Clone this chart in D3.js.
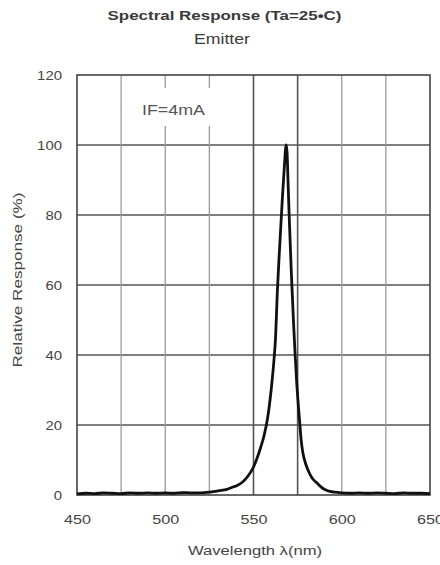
<!DOCTYPE html>
<html>
<head>
<meta charset="utf-8">
<script src="https://cdn.jsdelivr.net/npm/d3@7"></script>
<style>
html,body{margin:0;padding:0;background:#fff;}
svg{display:block;font-family:"Liberation Sans",Arial,sans-serif;}
</style>
</head>
<body>
<svg id="chart" width="440" height="565"></svg>
<script>
const wavelengths = [450,455,460,465,470,475,480,485,490,495,500,505,510,515,520,525,530,535,538,541,544,547,550,552,554,556,558,560,561.5,562.5,563.5,564.5,565.5,566.5,567.5,568.5,569,569.6,570.2,570.8,571.4,572.1,572.8,573.6,574.5,575.5,576.3,577,578,579.5,581,583,586,589,592,596,600,605,610,615,620,625,630,635,640,645,650];
const response =    [0.3,0.5,0.4,0.6,0.5,0.4,0.6,0.5,0.6,0.5,0.6,0.5,0.7,0.6,0.6,0.8,1.2,1.6,2.2,2.8,3.8,5.5,8,10.5,13.5,17,22,30,38,45,58,68,77,86,94,100,98,89,80,72,64,56,48,40,32,25,20,15.7,12,9,7,5,3.4,2,1.2,0.8,0.6,0.5,0.6,0.5,0.6,0.5,0.4,0.6,0.5,0.5,0.4];
const xTicks = [450,500,550,600,650];
const xGrid = [475,500,525,550,575,600,625];
const xGridDark = [550,575];
const yTicks = [0,20,40,60,80,100,120];
const titleText = ["Spectral Response (Ta=25\u2022C)","Emitter"];
const annotation = "IF=4mA";
const xLabel = "Wavelength \u03bb(nm)";
const yLabel = "Relative Response (%)";

const svg = d3.select("#chart");
const x = d3.scaleLinear().domain([450,650]).range([77,430]);
const y = d3.scaleLinear().domain([0,120]).range([495,75]);
const ink = "#3a3a3a";

// title
svg.append("text").attr("x",224.5).attr("y",20).attr("text-anchor","middle")
  .attr("font-size",13.5).attr("font-weight","bold").attr("fill",ink)
  .attr("textLength",234).attr("lengthAdjust","spacingAndGlyphs").text(titleText[0]);
svg.append("text").attr("x",222).attr("y",44).attr("text-anchor","middle")
  .attr("font-size",14.5).attr("fill",ink)
  .attr("textLength",56).attr("lengthAdjust","spacingAndGlyphs").text(titleText[1]);

// grid
const g = svg.append("g");
g.selectAll("line.h").data(yTicks.filter(d=>d>0&&d<120)).join("line")
  .attr("x1",x(450)).attr("x2",x(650)).attr("y1",d=>y(d)).attr("y2",d=>y(d))
  .attr("stroke","#555").attr("stroke-width",1.6);
g.selectAll("line.v").data(xGrid).join("line")
  .attr("x1",d=>x(d)).attr("x2",d=>x(d)).attr("y1",y(120)).attr("y2",y(0))
  .attr("stroke",d=>xGridDark.includes(d)?"#555":"#9a9a9a")
  .attr("stroke-width",d=>xGridDark.includes(d)?1.6:1.3);

// annotation box
svg.append("rect").attr("x",126).attr("y",88).attr("width",112).attr("height",38).attr("fill","#fff");
svg.append("text").attr("x",142).attr("y",115).attr("font-size",15).attr("fill","#555")
  .attr("textLength",63).attr("lengthAdjust","spacingAndGlyphs").text(annotation);

// frame
svg.append("rect").attr("x",x(450)).attr("y",y(120)).attr("width",x(650)-x(450)).attr("height",y(0)-y(120))
  .attr("fill","none").attr("stroke","#444").attr("stroke-width",1.6);

// axes labels
const yAxis = d3.axisLeft(y).tickValues(yTicks).tickSize(0).tickPadding(15);
const ya = svg.append("g").attr("transform",`translate(${x(450)},0)`).call(yAxis);
ya.select(".domain").remove();
ya.selectAll("text").attr("font-size",12.5).attr("fill","#444").attr("font-family","Liberation Sans, Arial, sans-serif")
  .attr("textLength",d=>String(d).length*8.3).attr("lengthAdjust","spacingAndGlyphs");

const xAxis = d3.axisBottom(x).tickValues(xTicks).tickSize(0).tickPadding(20);
const xa = svg.append("g").attr("transform",`translate(0,${y(0)})`).call(xAxis);
xa.select(".domain").remove();
xa.selectAll("text").attr("font-size",12.5).attr("fill","#444").attr("font-family","Liberation Sans, Arial, sans-serif")
  .attr("textLength",27).attr("lengthAdjust","spacingAndGlyphs");

svg.append("text").attr("x",255).attr("y",555).attr("text-anchor","middle")
  .attr("font-size",13).attr("fill","#444")
  .attr("textLength",134).attr("lengthAdjust","spacingAndGlyphs").text(xLabel);
svg.append("text").attr("transform","translate(22,280) rotate(-90)").attr("text-anchor","middle")
  .attr("font-size",13).attr("fill","#444")
  .attr("textLength",175).attr("lengthAdjust","spacingAndGlyphs").text(yLabel);

// curve
const line = d3.line().x((d,i)=>x(wavelengths[i])).y(d=>y(d)).curve(d3.curveMonotoneX);
svg.append("path").datum(response).attr("d",line).attr("fill","none")
  .attr("stroke","#111").attr("stroke-width",2.8).attr("stroke-linejoin","round");
</script>
</body>
</html>
